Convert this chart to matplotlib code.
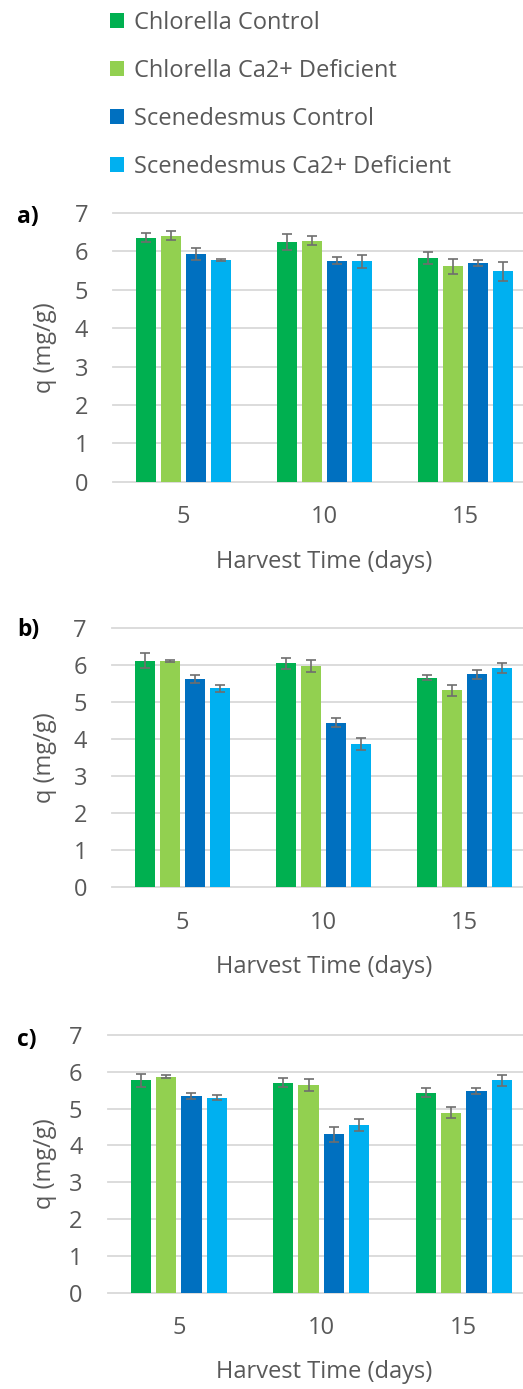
import matplotlib
matplotlib.use("Agg")
import matplotlib.pyplot as plt
import numpy as np

plt.rcParams['font.family'] = ['Open Sans', 'DejaVu Sans']

# Harvest times (days) and the four culture conditions
harvest_days = ["5", "10", "15"]
series_names = ["Chlorella Control", "Chlorella Ca2+ Deficient",
                "Scenedesmus Control", "Scenedesmus Ca2+ Deficient"]
series_colors = ["#00B050", "#92D050", "#0070C0", "#00B0F0"]

# a) uptake q (mg/g): one list per series, values at 5, 10, 15 days
a_chl_ctrl = [6.36, 6.24, 5.82]
a_chl_ca = [6.41, 6.28, 5.61]
a_sce_ctrl = [5.94, 5.76, 5.69]
a_sce_ca = [5.78, 5.74, 5.48]
a_chl_ctrl_err = [0.12, 0.20, 0.16]
a_chl_ca_err = [0.11, 0.11, 0.20]
a_sce_ctrl_err = [0.16, 0.09, 0.08]
a_sce_ca_err = [0.02, 0.16, 0.24]

# b)
b_chl_ctrl = [6.12, 6.06, 5.67]
b_chl_ca = [6.12, 5.98, 5.32]
b_sce_ctrl = [5.63, 4.45, 5.76]
b_sce_ca = [5.38, 3.88, 5.93]
b_chl_ctrl_err = [0.20, 0.15, 0.08]
b_chl_ca_err = [0.03, 0.15, 0.16]
b_sce_ctrl_err = [0.10, 0.12, 0.12]
b_sce_ca_err = [0.10, 0.16, 0.14]

# c)
c_chl_ctrl = [5.77, 5.70, 5.43]
c_chl_ca = [5.87, 5.64, 4.89]
c_sce_ctrl = [5.34, 4.30, 5.47]
c_sce_ca = [5.30, 4.55, 5.77]
c_chl_ctrl_err = [0.18, 0.12, 0.12]
c_chl_ca_err = [0.03, 0.16, 0.14]
c_sce_ctrl_err = [0.09, 0.21, 0.08]
c_sce_ca_err = [0.06, 0.16, 0.15]

panels = [
    ("a)", [a_chl_ctrl, a_chl_ca, a_sce_ctrl, a_sce_ca],
     [a_chl_ctrl_err, a_chl_ca_err, a_sce_ctrl_err, a_sce_ca_err]),
    ("b)", [b_chl_ctrl, b_chl_ca, b_sce_ctrl, b_sce_ca],
     [b_chl_ctrl_err, b_chl_ca_err, b_sce_ctrl_err, b_sce_ca_err]),
    ("c)", [c_chl_ctrl, c_chl_ca, c_sce_ctrl, c_sce_ca],
     [c_chl_ctrl_err, c_chl_ca_err, c_sce_ctrl_err, c_sce_ca_err]),
]

W, H = 523, 1389
DPI = 100
fig = plt.figure(figsize=(W / DPI, H / DPI), dpi=DPI)
fig.patch.set_facecolor("white")

# plot areas in pixels: left, right, y of top gridline (7), y of baseline (0)
boxes = [(113, 536, 213.0, 481.7),
         (112, 535, 628.3, 887.3),
         (107.5, 535, 1035.0, 1292.5)]
tag_dy = [4, 2, 5]

TEXT = "#595959"
GRID = "#D9D9D9"
FS = 17
bar_w = 0.142
step = 0.178
x = np.arange(len(harvest_days))

bar_handles = None
for (tag, vals, errs), (l, r, t, b), dy in zip(panels, boxes, tag_dy):
    ax = fig.add_axes([l / W, 1 - b / H, (r - l) / W, (b - t) / H])
    handles = []
    for i, (v, e, col) in enumerate(zip(vals, errs, series_colors)):
        h = ax.bar(x + (i - 1.5) * step, v, bar_w, color=col, zorder=3,
                   yerr=e, capsize=3.6,
                   error_kw=dict(ecolor="#6E6E6E", elinewidth=1.2,
                                 capthick=1.2, zorder=4),
                   label=series_names[i])
        handles.append(h)
    if bar_handles is None:
        bar_handles = handles
    ax.set_xlim(-0.5, 2.5)
    ax.set_ylim(0, 7)
    ax.set_yticks(range(0, 8))
    ax.set_xticks(x)
    ax.set_xticklabels(harvest_days)
    for s in ax.spines.values():
        s.set_visible(False)
    ax.yaxis.grid(True, color=GRID, linewidth=1.3, zorder=0)
    for gl in ax.get_ygridlines():
        gl.set_clip_on(False)
    ax.set_axisbelow(True)
    ax.tick_params(axis="both", length=0, labelsize=FS, labelcolor=TEXT)
    ax.tick_params(axis="y", pad=18)
    ax.tick_params(axis="x", pad=17)
    ax.set_ylabel("q (mg/g)", fontsize=FS, color=TEXT, va="center")
    ax.yaxis.set_label_coords((45 - l) / (r - l), 0.5)
    ax.set_xlabel("Harvest Time (days)", fontsize=FS, color=TEXT, va="center")
    ax.xaxis.set_label_coords((324.5 - l) / (r - l), -80 / (b - t))
    fig.text(17 / W, 1 - (t + dy) / H, tag, fontsize=16.5, fontweight="bold",
             color="black", ha="left", va="center")

leg = fig.legend(bar_handles, series_names, loc="upper left",
                 bbox_to_anchor=(110 / W, 1 - 11 / H), frameon=False,
                 fontsize=FS, labelcolor=TEXT, handlelength=0.6,
                 handleheight=0.6, handletextpad=0.4, labelspacing=1.02,
                 borderaxespad=0, borderpad=0)

fig.savefig("out.png", dpi=DPI, facecolor="white")
